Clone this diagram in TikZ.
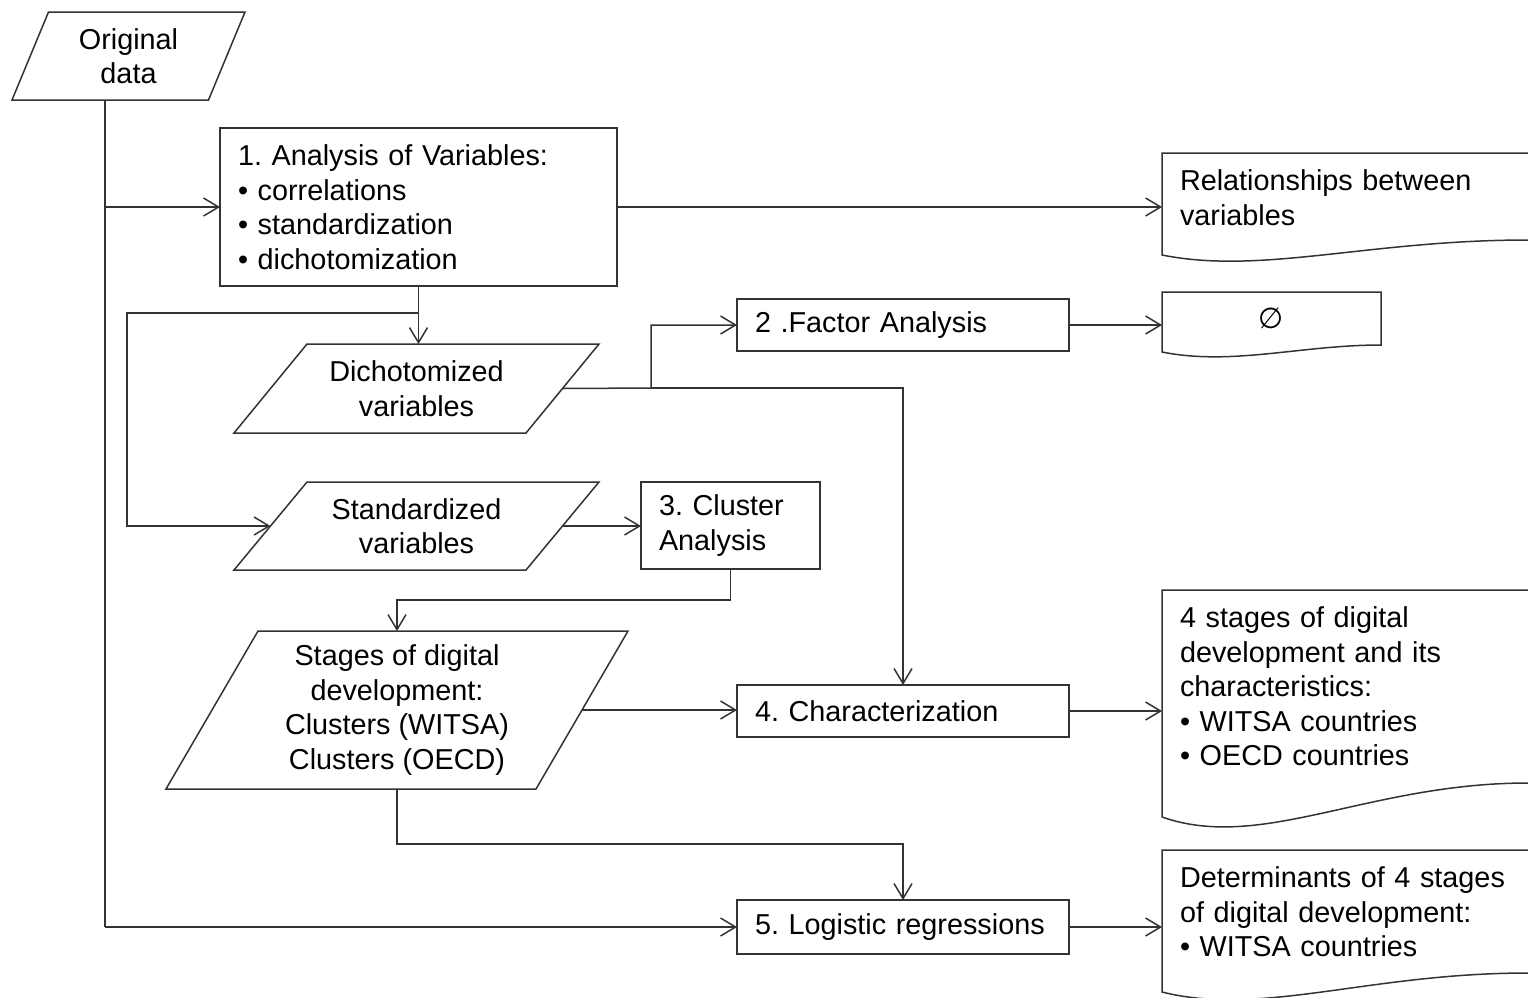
\documentclass[tikz,border=0pt]{standalone}
\usepackage{fontspec}
\setmainfont{Liberation Sans}
\newfontfamily\symfont{DejaVu Sans}
\usetikzlibrary{arrows.meta}
\frenchspacing

\begin{document}
\begin{tikzpicture}[x=1pt,y=-1pt,line width=1.5pt,font=\fontsize{28.8}{34.5}\selectfont]
	\useasboundingbox (0,0) rectangle (1528,997);
	%Stile
	\tikzset{
		box/.style = {draw=black!80, rectangle, inner xsep=18pt, inner ysep=0pt, outer sep=0pt, align=left},
		data/.style = {rectangle, inner sep=0pt, outer sep=0pt, align=center},
		docbox/.style = {inner xsep=18pt, inner ysep=17pt, outer sep=0pt, anchor=north west, align=left, text width=330pt},
		ln/.style = {draw=black!80},
		arr/.style = {ln, -{Straight Barb[length=15pt,width=18pt]}}
	};
	%Parallelogramm um Knoten
	\newcommand{\datashape}[2]{\draw[ln] (#1.south west) -- ([xshift=#2pt]#1.north west) -- (#1.north east) -- ([xshift=-#2pt]#1.south east) -- cycle;}
	
	%Daten
	\node[data, minimum width=233pt, minimum height=88pt] (orig) at (128.5,56) {Original\\data};
	\datashape{orig}{36.5}
	\node[data, minimum width=365pt, minimum height=89pt] (dich) at (416.5,388.5) {Dichotomized\\variables};
	\datashape{dich}{73}
	\node[data, minimum width=365pt, minimum height=88pt] (std) at (416.5,526) {Standardized\\variables};
	\datashape{std}{73}
	\node[data, minimum width=462pt, minimum height=158pt] (stg) at (397,710) {Stages of digital\\development:\\Clusters (WITSA)\\Clusters (OECD)};
	\datashape{stg}{92}
	
	%Schritte
	\node[box, minimum height=158pt, text width=361pt] (ana) at (418.5,207) {1. Analysis of Variables:\\\textbullet\ correlations\\\textbullet\ standardization\\\textbullet\ dichotomization};
	\node[box, minimum height=52pt, text width=296pt] (fac) at (903,325) {2 .Factor Analysis};
	\node[box, minimum height=87pt, text width=143pt] (clu) at (730.5,525.5) {3. Cluster\\Analysis};
	\node[box, minimum height=52pt, text width=296pt] (cha) at (903,711) {4. Characterization};
	\node[box, minimum height=54pt, text width=296pt] (log) at (903,927) {5. Logistic regressions};
	
	%Ergebnisse
	\node[docbox] (rel) at (1162,153) {Relationships between\\variables};
	\draw[ln] (rel.north east) -- (rel.north west) -- ++(0,102) .. controls +(100,20) and +(-160,0) .. ++(366,-15);
	\node[docbox, text width=183pt, align=center, inner ysep=16pt] (none) at (1162,292) {\symfont ∅};
	\draw[ln] (none.north west) -- ++(0,60) .. controls +(70,14) and +(-80,0) .. ++(219,-7) -- (none.north east) -- cycle;
	\node[docbox] (chr) at (1162,590) {4 stages of digital\\development and its\\characteristics:\\\textbullet\ WITSA countries\\\textbullet\ OECD countries};
	\draw[ln] (chr.north east) -- (chr.north west) -- ++(0,227) .. controls +(100,35) and +(-160,0) .. ++(366,-34);
	\node[docbox] (det) at (1162,850) {Determinants of 4 stages\\of digital development:\\\textbullet\ WITSA countries};
	\draw[ln] (det.north east) -- (det.north west) -- ++(0,142) .. controls +(100,25) and +(-160,0) .. ++(366,-19);
	
	%Verbindungen
	\coordinate (lane) at (105,0);
	\coordinate (lft) at (127,313);
	\coordinate (fork) at (651,388);
	\draw[ln] (lane |- orig.south) -- (lane |- log.west);
	\draw[arr] (lane |- ana.west) -- (ana.west);
	\draw[arr] (lane |- log.west) -- (log.west);
	\draw[arr] (ana.east) -- (ana.east -| rel.west);
	\draw[arr] (ana.south) -- (ana.south |- dich.north);
	\draw[arr] (ana.south |- lft) -- (lft) |- ([xshift=36.5pt]std.west);
	\draw[arr] ([xshift=-36.5pt]dich.east) -- (fork) |- (fac.west);
	\draw[arr] (fork) -| (cha.north);
	\draw[arr] (fac.east) -- (fac.east -| none.west);
	\draw[arr] ([xshift=-36.5pt]std.east) -- (std.east -| clu.west);
	\draw[arr] (clu.south) -- ++(0,31) -| (stg.north);
	\draw[arr] ([xshift=-46pt]stg.east) -- (stg.east -| cha.west);
	\draw[arr] (stg.south) -- ++(0,55) -| (log.north);
	\draw[arr] (cha.east) -- (cha.east -| chr.west);
	\draw[arr] (log.east) -- (log.east -| det.west);
\end{tikzpicture}
\end{document}
